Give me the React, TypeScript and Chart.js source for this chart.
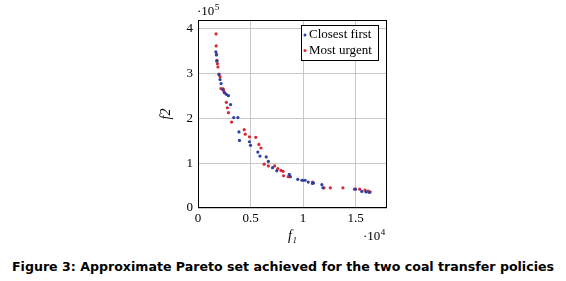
import React, { useEffect, useRef } from "react";
import { Chart, registerables } from "chart.js";

Chart.register(...registerables);

// f1 values (raw) and f2 values (raw) per policy
const closestF1 = [1700, 1750, 1800, 2000, 2100, 2200, 2350, 2500, 2700, 2900, 3100, 3400, 3800, 3900, 3950, 4900, 5000, 5700, 5900, 6500, 6700, 7100, 7500, 8700, 8800, 9500, 9900, 10200, 10500, 10900, 11000, 11800, 11900, 15000, 15600, 16000, 16300];
const closestF2 = [349000, 342000, 328000, 298000, 287000, 278000, 265000, 258000, 254000, 251000, 231000, 202000, 202000, 170000, 151000, 148000, 140000, 125000, 116000, 114000, 104000, 90000, 83000, 75000, 70000, 64000, 62000, 62000, 58000, 55000, 56000, 52000, 45000, 42000, 37000, 36000, 35000];
const urgentF1 = [1720, 1730, 1770, 1800, 1850, 1900, 2000, 2100, 2180, 2400, 2450, 2550, 2700, 2800, 2900, 3200, 4400, 4500, 4900, 5500, 5800, 6000, 6300, 6700, 7300, 7600, 7900, 8100, 8150, 8600, 10000, 10900, 12000, 12600, 13800, 14900, 15400, 15900, 16200, 16400];
const urgentF2 = [389000, 362000, 343000, 330000, 322000, 315000, 299000, 293000, 267000, 266000, 262000, 257000, 236000, 224000, 213000, 192000, 175000, 165000, 159000, 158000, 142000, 134000, 98000, 94000, 94000, 88000, 84000, 82000, 72000, 70000, 62000, 58000, 45000, 45000, 45000, 42000, 42000, 40000, 38000, 36000];

const seriesLabels = ["Closest first", "Most urgent"];
const seriesColors = ["rgb(45,65,160)", "rgb(215,40,55)"];
const xTickValues = [0, 5000, 10000, 15000];
const yTickValues = [0, 100000, 200000, 300000, 400000];
const xMax = 18000;
const yMax = 420000;
const xTitle = "f\u2081";
const yTitle = "f2";
const xMultiplier = ["\u00b710", "4"];
const yMultiplier = ["\u00b710", "5"];
const caption = "Figure 3: Approximate Pareto set achieved for the two coal transfer policies";

const SERIF = "'Liberation Serif', 'DejaVu Serif', serif";

const decorPlugin = {
  id: "decor",
  beforeDatasetsDraw(chart: any) {
    const { ctx, chartArea: a } = chart;
    ctx.save();
    ctx.strokeStyle = "#000";
    ctx.lineWidth = 1;
    ctx.strokeRect(a.left + 0.5, a.top + 0.5, a.right - a.left - 1, a.bottom - a.top - 1);
    ctx.restore();
  },
  afterDraw(chart: any) {
    const { ctx, chartArea: a } = chart;
    ctx.save();
    ctx.fillStyle = "#000";
    ctx.textBaseline = "alphabetic";
    ctx.textAlign = "left";
    const drawMult = (parts: string[], x: number, y: number) => {
      ctx.font = `13px ${SERIF}`;
      ctx.fillText(parts[0], x, y);
      const w = ctx.measureText(parts[0]).width;
      ctx.font = `9px ${SERIF}`;
      ctx.fillText(parts[1], x + w + 0.5, y - 5);
    };
    drawMult(yMultiplier, a.left - 1, a.top - 5);
    drawMult(xMultiplier, a.right - 24, a.bottom + 32);

    // legend
    const bx = a.right - 86;
    const by = a.top + 5;
    const bw = 78;
    const bh = 36;
    ctx.fillStyle = "#fff";
    ctx.fillRect(bx, by, bw, bh);
    ctx.strokeStyle = "#000";
    ctx.lineWidth = 1;
    ctx.strokeRect(bx + 0.5, by + 0.5, bw - 1, bh - 1);
    ctx.font = `13px ${SERIF}`;
    ctx.textBaseline = "middle";
    chart.data.datasets.forEach((ds: any, i: number) => {
      const cy = by + 10 + i * 15.5;
      ctx.fillStyle = ds.backgroundColor;
      ctx.beginPath();
      ctx.arc(bx + 4, cy, 1.5, 0, Math.PI * 2);
      ctx.fill();
      ctx.fillStyle = "#000";
      ctx.fillText(ds.label, bx + 8, cy);
    });
    ctx.restore();
  },
};

export default function App() {
  const ref = useRef<HTMLCanvasElement | null>(null);

  useEffect(() => {
    if (!ref.current) return;
    const mk = (xs: number[], ys: number[]) => xs.map((x, i) => ({ x, y: ys[i] }));
    const chart = new Chart(ref.current, {
      type: "scatter",
      data: {
        datasets: [
          {
            label: seriesLabels[0],
            data: mk(closestF1, closestF2),
            backgroundColor: seriesColors[0],
            borderColor: seriesColors[0],
            pointRadius: 1.6,
            borderWidth: 0,
          },
          {
            label: seriesLabels[1],
            data: mk(urgentF1, urgentF2),
            backgroundColor: seriesColors[1],
            borderColor: seriesColors[1],
            pointRadius: 1.6,
            borderWidth: 0,
          },
        ],
      },
      options: {
        animation: false,
        responsive: false,
        devicePixelRatio: 1,
        layout: { padding: { left: 150, right: 179, top: 20, bottom: 0 } },
        plugins: {
          legend: { display: false },
          tooltip: { enabled: false },
        },
        scales: {
          x: {
            type: "linear",
            min: 0,
            max: xMax,
            afterBuildTicks: (s: any) => {
              s.ticks = xTickValues.map((v) => ({ value: v }));
            },
            ticks: {
              padding: 3,
              color: "#000",
              maxRotation: 0,
              autoSkip: false,
              font: { family: SERIF, size: 13 },
              callback: (v: any) => String(Number(v) / 10000),
            },
            grid: { color: "#c8c8c8", drawTicks: false },
            border: { display: false },
            title: {
              display: true,
              text: xTitle,
              color: "#000",
              font: { family: SERIF, size: 14, style: "italic" },
              padding: { top: 0, bottom: 5 },
            },
            afterFit: (s: any) => {
              s.height = 42;
            },
          },
          y: {
            type: "linear",
            min: 0,
            max: yMax,
            afterBuildTicks: (s: any) => {
              s.ticks = yTickValues.map((v) => ({ value: v }));
            },
            ticks: {
              padding: 5,
              color: "#000",
              autoSkip: false,
              font: { family: SERIF, size: 13 },
              callback: (v: any) => String(Number(v) / 100000),
            },
            grid: { color: "#c8c8c8", drawTicks: false },
            border: { display: false },
            title: {
              display: true,
              text: yTitle,
              color: "#000",
              font: { family: SERIF, size: 14, style: "italic" },
              padding: { top: 8, bottom: 0 },
            },
            afterFit: (s: any) => {
              s.width = 48;
            },
          },
        },
      },
      plugins: [decorPlugin],
    });
    return () => chart.destroy();
  }, []);

  return (
    <div style={{ position: "absolute", left: 0, top: 0, width: 566, height: 281, background: "#fff" }}>
      <canvas ref={ref} width={566} height={250} style={{ display: "block", width: 566, height: 250 }} />
      <div
        style={{
          position: "absolute",
          left: 0,
          top: 259,
          width: 566,
          textAlign: "center",
          fontFamily: "'DejaVu Sans', Verdana, sans-serif",
          fontWeight: "bold",
          fontSize: 12.6,
          lineHeight: "16px",
          color: "#000",
          whiteSpace: "nowrap",
        }}
      >
        {caption}
      </div>
    </div>
  );
}
